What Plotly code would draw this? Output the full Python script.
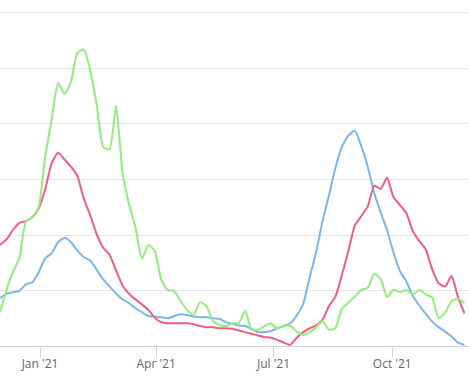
import pandas as pd
import plotly.graph_objects as go

# dates sampled every 5 days starting 2020-12-01
start_date = "2020-12-01"
n_points = 73
step = "5D"

blue_values = [8.6, 9.4, 9.7, 9.9, 11.1, 11.5, 13.3, 15.8, 16.7, 18.7,
               19.5, 18.7, 17.2, 16.0, 15.4, 13.7, 12.0, 10.7, 9.4, 8.4,
               7.7, 6.8, 6.1, 5.4, 5.3, 5.2, 5.0, 5.4, 5.7, 5.6,
               5.3, 5.2, 5.2, 5.0, 4.9, 4.3, 4.0, 3.7, 3.6, 3.1,
               2.5, 2.5, 2.7, 3.2, 3.6, 4.1, 5.5, 7.6, 12.4, 16.9,
               22.5, 27.2, 32.1, 35.9, 37.9, 38.8, 36.0, 32.3, 27.6, 24.1,
               20.9, 16.8, 13.5, 11.6, 9.0, 7.3, 5.8, 4.4, 3.4, 2.6,
               1.7, 0.6, 0.2]

red_values = [18.2, 19.2, 20.9, 22.2, 22.5, 23.2, 24.8, 28.2, 32.9, 34.8,
              33.6, 32.3, 30.6, 26.5, 23.5, 20.1, 17.7, 16.4, 13.6, 10.9,
              9.4, 8.4, 7.5, 6.5, 5.1, 4.3, 4.1, 4.1, 4.1, 4.1,
              3.9, 3.6, 3.4, 3.4, 3.2, 3.2, 3.1, 2.8, 2.5, 2.2,
              1.9, 1.6, 1.5, 1.1, 0.6, 0.2, 1.5, 2.5, 3.2, 3.7,
              4.7, 7.2, 8.9, 12.8, 17.1, 21.7, 23.4, 25.1, 28.9, 28.3,
              30.3, 26.8, 25.4, 23.9, 20.7, 18.9, 17.4, 13.8, 11.3, 10.7,
              12.6, 8.8, 5.9]

green_values = [6.1, 10.1, 13.3, 15.8, 22.4, 23.2, 25.0, 34.1, 40.7, 47.4,
                45.4, 47.6, 52.8, 53.4, 49.6, 43.4, 35.8, 35.5, 43.3, 31.2,
                25.6, 21.4, 15.7, 18.2, 17.1, 11.9, 10.1, 9.9, 8.1, 6.5,
                5.6, 7.9, 7.2, 4.5, 3.8, 3.6, 4.1, 4.1, 6.4, 2.9,
                2.9, 3.6, 4.1, 3.1, 3.7, 3.6, 2.6, 2.0, 2.5, 3.4,
                4.5, 2.9, 3.2, 6.7, 7.8, 8.9, 10.1, 10.5, 13.0, 12.1,
                8.8, 10.1, 9.7, 10.1, 9.3, 10.1, 9.3, 8.7, 5.0, 6.0,
                8.1, 8.5, 7.7]

tick_dates = ["2021-01-01", "2021-04-01", "2021-07-01", "2021-10-01"]
tick_labels = ["Jan '21", "Apr '21", "Jul '21", "Oct '21"]

dates = pd.date_range(start_date, periods=n_points, freq=step)

series = [
    ("Blue", blue_values, "#7cb5ec"),
    ("Red", red_values, "#f15c80"),
    ("Green", green_values, "#90ed7d"),
]

fig = go.Figure()
for name, vals, color in series:
    fig.add_trace(go.Scatter(
        x=dates, y=vals, mode="lines", name=name,
        line=dict(color=color, width=2, shape="spline", smoothing=0.5),
        hoverinfo="skip",
    ))

fig.update_layout(
    width=469, height=380,
    margin=dict(l=0, r=0, t=0, b=34),
    plot_bgcolor="white", paper_bgcolor="white",
    showlegend=False,
    font=dict(family="Open Sans", size=12, color="#666666"),
)
fig.update_xaxes(
    range=["2020-12-01", "2021-11-29 12:00"],
    tickvals=tick_dates, ticktext=tick_labels,
    showgrid=False, showline=True, linecolor="#ccd6eb", linewidth=1,
    ticks="outside", ticklen=10, tickcolor="#ccd6eb", tickwidth=1,
    ticklabelstandoff=-3,
    zeroline=False, tickfont=dict(family="Open Sans", size=12, color="#666666"),
)
fig.update_yaxes(
    range=[0, 62.34], dtick=10, tick0=0,
    showticklabels=False, showgrid=True, gridcolor="#e6e6e6", gridwidth=1,
    zeroline=False, showline=False,
)

fig.write_html(
    "out.html",
    config={"displayModeBar": False},
    post_script="document.body.style.margin='0';document.body.style.padding='0';",
)
